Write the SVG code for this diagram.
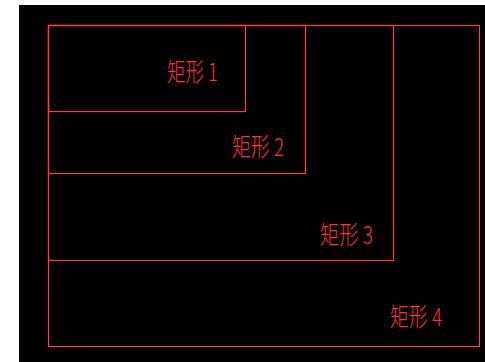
<svg xmlns="http://www.w3.org/2000/svg" width="485" height="362" viewBox="0 0 485 362">
<style>
.r{fill:none;stroke:#ff3a3a;stroke-width:1.2}
.t{fill:#ff3030;font-family:"Noto Sans CJK SC","Liberation Sans",sans-serif;font-size:25px;font-weight:300}
</style>
<rect x="0" y="0" width="485" height="362" fill="#ffffff"/>
<rect x="19" y="5" width="466" height="357" fill="#000000"/>
<g id="rect4"><rect class="r" x="48.5" y="25.5" width="431" height="321"/><text class="t" x="390" y="326" textLength="52" lengthAdjust="spacingAndGlyphs">矩形 4</text></g>
<g id="rect3"><rect class="r" x="48.5" y="25.5" width="345" height="235"/><text class="t" x="320" y="244" textLength="53" lengthAdjust="spacingAndGlyphs">矩形 3</text></g>
<g id="rect2"><rect class="r" x="48.5" y="25.5" width="257" height="148"/><text class="t" x="232" y="156" textLength="52" lengthAdjust="spacingAndGlyphs">矩形 2</text></g>
<g id="rect1"><rect class="r" x="48.5" y="25.5" width="197" height="86"/><text class="t" x="167" y="81" textLength="51" lengthAdjust="spacingAndGlyphs">矩形 1</text></g>
</svg>
